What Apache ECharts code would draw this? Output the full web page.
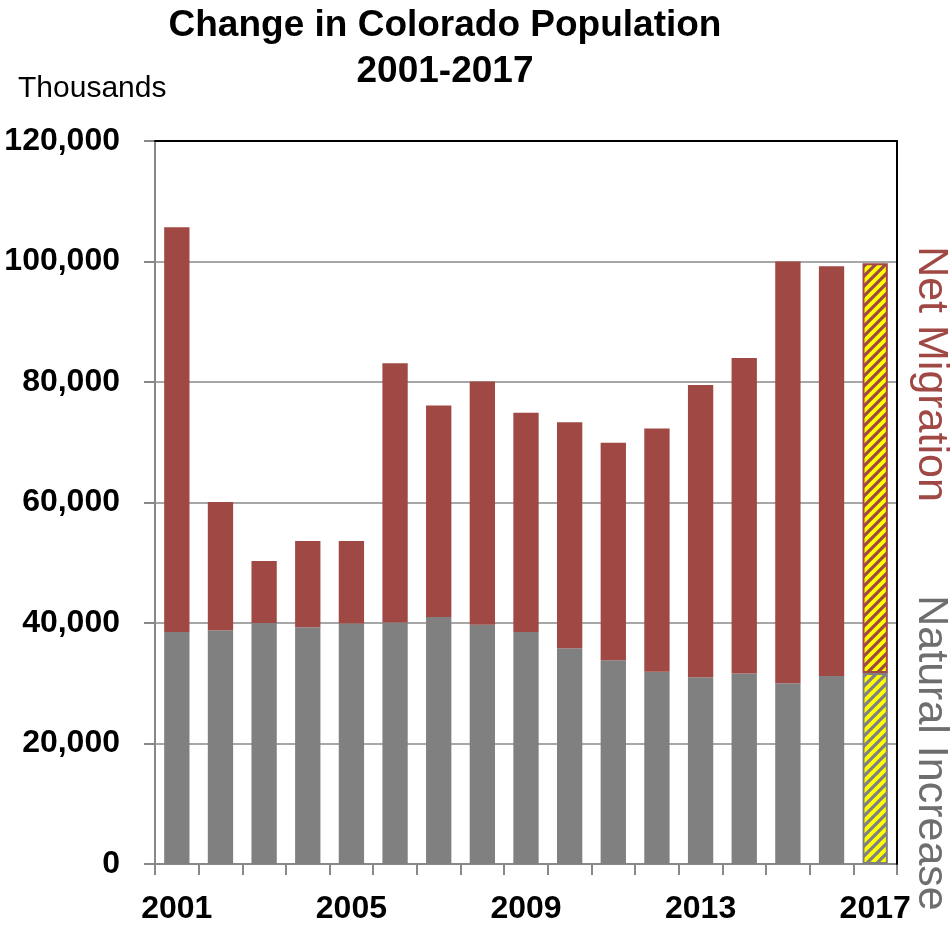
<!DOCTYPE html>
<html>
<head>
<meta charset="utf-8">
<script src="https://cdn.jsdelivr.net/npm/echarts@6/dist/echarts.min.js"></script>
<style>
html,body{margin:0;padding:0;background:#fff;}
#chart{width:950px;height:928px;}
</style>
</head>
<body>
<div id="chart"></div>
<script>
// ---- data ----
const years = ['2001','2002','2003','2004','2005','2006','2007','2008','2009','2010','2011','2012','2013','2014','2015','2016','2017'];
const naturalIncrease = [38500,38800,40000,39300,39900,40100,41000,39700,38500,35800,33800,31900,31000,31600,30000,31200,31700];
const netMigration    = [67200,21300,10300,14300,13700,43000,35100,40400,36400,37500,36100,40400,48500,52400,70000,68000,68000];
const yTicks = [0,20000,40000,60000,80000,100000,120000];

const titleText = 'Change in Colorado Population\n2001-2017';
const unitText = 'Thousands';
const migLabel = 'Net Migration';
const natLabel = 'Natural Increase';

const RED = '#A04844';
const GREY = '#808080';
const SANS = '"Liberation Sans",Arial,sans-serif';

function stripes(color){
  const c = document.createElement('canvas');
  c.width = 10; c.height = 10;
  const g = c.getContext('2d');
  g.fillStyle = '#FFFF00';
  g.fillRect(0,0,10,10);
  g.strokeStyle = color;
  g.lineWidth = 3.2;
  g.beginPath();
  g.moveTo(-5,5); g.lineTo(5,-5);
  g.moveTo(0,10); g.lineTo(10,0);
  g.moveTo(5,15); g.lineTo(15,5);
  g.stroke();
  return {image: c, repeat: 'repeat'};
}

const last = years.length - 1;
const natData = naturalIncrease.map((v,i)=> i===last ? {value:v, itemStyle:{color:stripes(GREY), borderColor:GREY, borderWidth:2}} : v);
const migData = netMigration.map((v,i)=> i===last ? {value:v, itemStyle:{color:stripes(RED), borderColor:RED, borderWidth:2}} : v);

const chart = echarts.init(document.getElementById('chart'), null, {renderer:'canvas'});
chart.setOption({
  animation:false,
  backgroundColor:'#fff',
  title:{
    text:titleText,
    left:440, top:-2, textAlign:'center',
    textStyle:{fontFamily:SANS, fontSize:37, fontWeight:'bold', color:'#000', lineHeight:46}
  },
  graphic:[
    {type:'text', left:18, top:74, style:{text:unitText, font:'30px '+SANS, fill:'#000'}},
    {type:'text', x:931, y:374, rotation:-Math.PI/2,
      style:{text:migLabel, font:'43px '+SANS, fill:RED, align:'center', verticalAlign:'middle'}},
    {type:'text', x:931, y:753, rotation:-Math.PI/2,
      style:{text:natLabel, font:'43px '+SANS, fill:'#6E6E6E', align:'center', verticalAlign:'middle'}}
  ],
  grid:{left:155, right:53, top:141, bottom:64, containLabel:false, outerBoundsMode:'none'},
  xAxis:[{
    type:'category', data:years, boundaryGap:true, position:'bottom',
    axisLine:{show:true, onZero:false, lineStyle:{color:'#888', width:2}},
    axisTick:{show:true, interval:0, length:11, lineStyle:{color:'#888', width:2}},
    axisLabel:{interval:3, margin:29, fontFamily:SANS, fontSize:32, fontWeight:'bold', color:'#000'},
    splitLine:{show:false}
  },{
    type:'category', data:years, position:'top', z:10,
    axisLine:{show:true, onZero:false, lineStyle:{color:'#000', width:2}},
    axisTick:{show:false}, axisLabel:{show:false}, splitLine:{show:false}
  }],
  yAxis:[{
    type:'value', min:yTicks[0], max:yTicks[yTicks.length-1], interval:yTicks[1]-yTicks[0],
    axisLine:{show:true, onZero:false, lineStyle:{color:'#888', width:2}},
    axisTick:{show:true, length:11, lineStyle:{color:'#888', width:2}},
    axisLabel:{margin:35, fontFamily:SANS, fontSize:32, fontWeight:'bold', color:'#000',
      formatter:v=>v.toLocaleString('en-US')},
    splitLine:{show:true, lineStyle:{color:'#8a8a8a', width:1.5}}
  },{
    type:'value', min:yTicks[0], max:yTicks[yTicks.length-1], position:'right', z:10,
    axisLine:{show:true, onZero:false, lineStyle:{color:'#000', width:2}},
    axisTick:{show:false}, axisLabel:{show:false}, splitLine:{show:false}
  }],
  series:[
    {name:natLabel, type:'bar', stack:'pop', data:natData, barWidth:'58%', itemStyle:{color:GREY}},
    {name:migLabel, type:'bar', stack:'pop', data:migData, barWidth:'58%', itemStyle:{color:RED}}
  ]
});
</script>
</body>
</html>
